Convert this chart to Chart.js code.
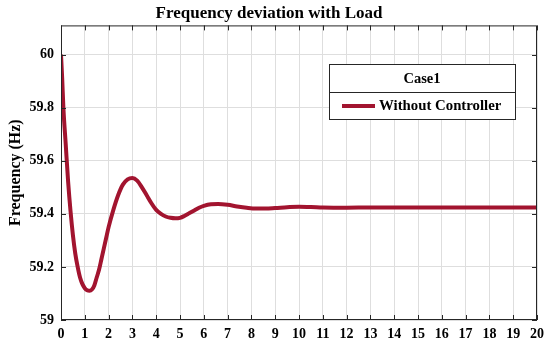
<!DOCTYPE html>
<html>
<head>
<meta charset="utf-8">
<script src="https://cdn.jsdelivr.net/npm/chart.js@4/dist/chart.umd.min.js"></script>
<style>
    html, body { margin: 0; padding: 0; background: #fff; }
    #wrap { width: 550px; height: 348px; }
</style>
</head>
<body>
<div id="wrap"><canvas id="freq-chart"></canvas></div>
<script>
// time (s) and frequency (Hz)
const timeS = [0, 0.05, 0.1, 0.2, 0.3, 0.4, 0.5, 0.6, 0.7, 0.8, 0.9, 1.0, 1.1, 1.2, 1.3, 1.4, 1.5, 1.6, 1.7, 1.8, 1.9,
    2.0, 2.2, 2.4, 2.6, 2.8, 3.0, 3.2, 3.4, 3.6, 3.8, 4.0, 4.2, 4.4, 4.6, 4.8, 5.0, 5.2, 5.4, 5.6, 5.8,
    6.0, 6.3, 6.6, 7.0, 7.4, 7.8, 8.2, 8.6, 9.0, 9.5, 10, 10.5, 11, 12, 13, 14, 15, 16, 17, 18, 19, 20];
const freqHz = [60.00, 59.91, 59.80, 59.66, 59.52, 59.41, 59.32, 59.25, 59.20, 59.16, 59.135, 59.12, 59.112, 59.11, 59.115, 59.13, 59.16, 59.19, 59.23, 59.27, 59.31,
    59.35, 59.415, 59.47, 59.51, 59.53, 59.535, 59.525, 59.50, 59.47, 59.44, 59.415, 59.40, 59.39, 59.385, 59.383, 59.385, 59.393, 59.403, 59.413, 59.423,
    59.43, 59.436, 59.437, 59.434, 59.428, 59.423, 59.42, 59.42, 59.422, 59.425, 59.427, 59.426, 59.424, 59.423, 59.424, 59.424, 59.424, 59.424, 59.424, 59.424, 59.424, 59.424];
const yTicks = [59, 59.2, 59.4, 59.6, 59.8, 60];
const xTicks = [0, 1, 2, 3, 4, 5, 6, 7, 8, 9, 10, 11, 12, 13, 14, 15, 16, 17, 18, 19, 20];
const legendTitle = 'Case1';
const seriesLabel = 'Without Controller';

const lineColor = '#a2142f';
const axisColor = '#262626';
const serif = '"Liberation Serif", "Times New Roman", serif';

// MATLAB-style box with inward tick marks on all four sides
const boxTicks = {
    id: 'boxTicks',
    afterDatasetsDraw(chart) {
        const { ctx, chartArea: a, scales } = chart;
        ctx.save();
        ctx.strokeStyle = axisColor;
        ctx.lineWidth = 1;
        ctx.strokeRect(a.left + 0.5, a.top + 0.5, a.right - a.left - 1, a.bottom - a.top - 1);
        ctx.beginPath();
        xTicks.forEach(v => {
            const x = Math.round(scales.x.getPixelForValue(v)) + 0.5;
            ctx.moveTo(x, a.bottom); ctx.lineTo(x, a.bottom - 5);
            ctx.moveTo(x, a.top); ctx.lineTo(x, a.top + 5);
        });
        yTicks.forEach(v => {
            const y = Math.round(scales.y.getPixelForValue(v)) + 0.5;
            ctx.moveTo(a.left, y); ctx.lineTo(a.left + 5, y);
            ctx.moveTo(a.right, y); ctx.lineTo(a.right - 5, y);
        });
        ctx.stroke();
        ctx.restore();
    }
};

// legend box with title row, drawn on top
const caseLegend = {
    id: 'caseLegend',
    afterDraw(chart) {
        const { ctx } = chart;
        const ds = chart.data.datasets[0];
        const bx = 329, by = 64, bw = 186, bh = 55, split = 92;
        ctx.save();
        ctx.fillStyle = '#fff';
        ctx.fillRect(bx, by, bw, bh);
        ctx.strokeStyle = axisColor;
        ctx.lineWidth = 1;
        ctx.strokeRect(bx + 0.5, by + 0.5, bw, bh);
        ctx.beginPath();
        ctx.moveTo(bx, split + 0.5); ctx.lineTo(bx + bw, split + 0.5);
        ctx.stroke();
        ctx.fillStyle = '#000';
        ctx.font = 'bold 14.5px ' + serif;
        ctx.textAlign = 'center';
        ctx.textBaseline = 'middle';
        ctx.fillText(legendTitle, bx + bw / 2, 79);
        ctx.strokeStyle = ds.borderColor;
        ctx.lineWidth = 4;
        ctx.beginPath();
        ctx.moveTo(342, 106); ctx.lineTo(375, 106);
        ctx.stroke();
        ctx.textAlign = 'left';
        ctx.font = 'bold 14.8px ' + serif;
        ctx.fillText(ds.label, 379, 106);
        ctx.restore();
    }
};

new Chart(document.getElementById('freq-chart'), {
    type: 'line',
    data: {
        datasets: [{
            label: seriesLabel,
            data: timeS.map((t, i) => ({ x: t, y: freqHz[i] })),
            borderColor: lineColor,
            borderWidth: 4,
            pointRadius: 0,
            cubicInterpolationMode: 'monotone',
            fill: false
        }]
    },
    options: {
        responsive: true,
        maintainAspectRatio: false,
        animation: false,
        layout: { padding: { top: 0, right: 12, left: 0, bottom: 0 } },
        plugins: {
            legend: { display: false },
            tooltip: { enabled: false },
            title: {
                display: true,
                text: 'Frequency deviation with Load',
                color: '#000',
                font: { family: serif, size: 17, weight: 'bold' },
                padding: { top: 3, bottom: 2 }
            }
        },
        scales: {
            x: {
                type: 'linear',
                min: 0,
                max: 20,
                afterBuildTicks: s => { s.ticks = xTicks.map(v => ({ value: v })); },
                afterFit: s => { s.height = 28; },
                grid: { color: '#dedede', drawTicks: false },
                border: { display: false },
                ticks: {
                    color: '#000',
                    padding: 6,
                    maxRotation: 0,
                    autoSkip: false,
                    font: { family: serif, size: 14, weight: 'bold' }
                }
            },
            y: {
                min: 59,
                max: 60.11,
                afterBuildTicks: s => { s.ticks = yTicks.map(v => ({ value: v })); },
                afterFit: s => { s.width = 61; },
                grid: { color: '#dedede', drawTicks: false },
                border: { display: false },
                title: {
                    display: true,
                    text: 'Frequency (Hz)',
                    color: '#000',
                    font: { family: serif, size: 16, weight: 'bold' },
                    padding: { top: 6, bottom: 0 }
                },
                ticks: {
                    color: '#000',
                    padding: 7,
                    font: { family: serif, size: 14, weight: 'bold' },
                    callback: v => String(Math.round(v * 10) / 10)
                }
            }
        }
    },
    plugins: [boxTicks, caseLegend]
});
</script>
</body>
</html>
